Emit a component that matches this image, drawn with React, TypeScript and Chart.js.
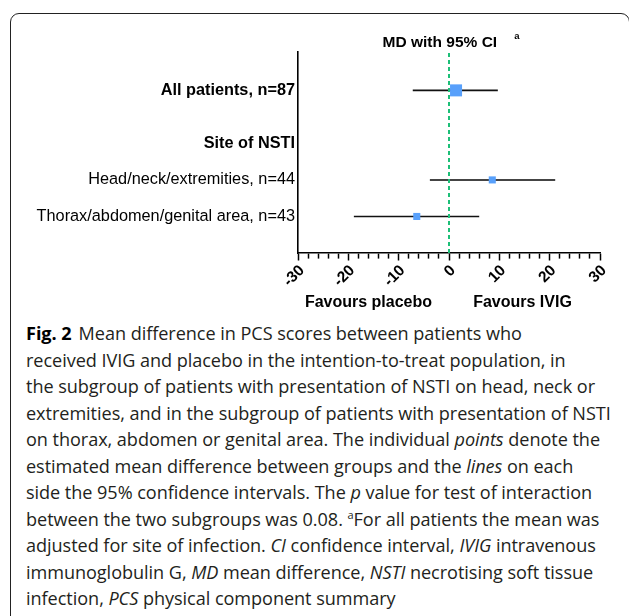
import React, { useEffect, useRef } from 'react';
import { Chart, registerables } from 'chart.js';

Chart.register(...registerables);

// ---- data ----
const rowLabels = [
  'All patients, n=87',
  'Site of NSTI',
  'Head/neck/extremities, n=44',
  'Thorax/abdomen/genital area, n=43',
];
const rowPositions = [4.45, 3, 2, 1];
const rowIsHeading = [true, true, false, false];

const estimateRows = [
  'All patients, n=87',
  'Head/neck/extremities, n=44',
  'Thorax/abdomen/genital area, n=43',
];
const meanDiff = [1.4, 8.6, -6.4];
const ciLower = [-7.2, -3.8, -18.9];
const ciUpper = [9.7, 21.1, 6.0];

const xMin = -30;
const xMax = 30;
const majorStep = 10;
const minorStep = 2;
const yMin = 0;
const yMax = 5.5;

const titleText = 'MD with 95% CI';
const titleSup = 'a';
const favourLabels = ['Favours placebo', 'Favours IVIG'];
const favourAnchors = [-16, 14.6];

const FAMILY = '"Liberation Sans", Arial, sans-serif';

const textPlugin = {
  id: 'forestText',
  afterDraw(chart: any) {
    const { ctx, chartArea, scales } = chart;
    const x = scales.x;
    ctx.save();
    ctx.fillStyle = '#000';
    ctx.textBaseline = 'alphabetic';
    ctx.textAlign = 'left';
    ctx.font = `bold 15.5px ${FAMILY}`;
    const w1 = ctx.measureText(titleText).width;
    ctx.font = `bold 9.5px ${FAMILY}`;
    const w2 = ctx.measureText(titleSup).width;
    const gap = 17;
    const total = w1 + gap + w2;
    const sx = (chartArea.left + chartArea.right) / 2 - total / 2 + 2;
    ctx.font = `bold 15.5px ${FAMILY}`;
    ctx.fillText(titleText, sx, chartArea.top - 5.5);
    ctx.font = `bold 9.5px ${FAMILY}`;
    ctx.fillText(titleSup, sx + w1 + gap, chartArea.top - 13.5);

    ctx.font = `bold 16px ${FAMILY}`;
    ctx.textAlign = 'center';
    favourLabels.forEach((t, i) => {
      ctx.fillText(t, x.getPixelForValue(favourAnchors[i]), chartArea.bottom + 53.5);
    });
    ctx.restore();
  },
};

function ForestChart() {
  const ref = useRef<HTMLCanvasElement | null>(null);
  useEffect(() => {
    if (!ref.current) return;
    const estY = estimateRows.map((r) => rowPositions[rowLabels.indexOf(r)]);
    const ciSets = estimateRows.map((r, i) => ({
      type: 'line' as const,
      label: r + ' 95% CI',
      data: [
        { x: ciLower[i], y: estY[i] },
        { x: ciUpper[i], y: estY[i] },
      ],
      borderColor: i === 1 ? '#444' : '#111',
      borderWidth: i === 1 ? 2 : 1.6,
      pointRadius: 0,
      order: 3,
    }));
    const chart = new Chart(ref.current, {
      type: 'scatter',
      data: {
        datasets: [
          ...ciSets,
          {
            type: 'line' as const,
            label: 'No difference',
            data: [
              { x: 0, y: yMin },
              { x: 0, y: yMax },
            ],
            borderColor: '#1dbf77',
            borderWidth: 2,
            borderDash: [4, 3],
            pointRadius: 0,
            order: 2,
          },
          {
            type: 'scatter' as const,
            label: 'MD',
            data: estimateRows.map((r, i) => ({ x: meanDiff[i], y: estY[i] })),
            pointStyle: 'rect',
            pointRadius: (c: any) => (c.dataIndex === 0 ? 8.5 : 5),
            pointHoverRadius: (c: any) => (c.dataIndex === 0 ? 8.5 : 5),
            backgroundColor: '#58a0fb',
            borderWidth: 0,
            order: 1,
          } as any,
        ],
      },
      options: {
        animation: false,
        responsive: true,
        maintainAspectRatio: false,
        layout: { padding: { top: 52, right: 29, left: 0, bottom: 0 } },
        plugins: {
          legend: { display: false },
          tooltip: { enabled: false },
          title: { display: false },
        },
        scales: {
          x: {
            type: 'linear',
            min: xMin,
            max: xMax,
            position: 'bottom',
            ticks: {
              stepSize: minorStep,
              autoSkip: false,
              minRotation: 45,
              maxRotation: 45,
              padding: 1,
              labelOffset: 4,
              color: '#000',
              font: { family: FAMILY, size: 15.5, weight: 'bold' },
              callback: (v: any) => (Number(v) % majorStep === 0 ? String(v) : ''),
            },
            grid: {
              drawOnChartArea: false,
              drawTicks: true,
              tickLength: 7.5,
              tickWidth: 1.5,
              tickColor: '#000',
              tickBorderDash: (c: any) =>
                c.tick && Number(c.tick.value) % majorStep !== 0 ? [5, 20] : [],
            },
            border: { color: '#000', width: 1.6 },
            afterFit: (s: any) => {
              s.height = 67;
            },
          },
          y: {
            type: 'linear',
            min: yMin,
            max: yMax,
            position: 'left',
            afterBuildTicks: (s: any) => {
              s.ticks = rowPositions.map((v) => ({ value: v }));
            },
            ticks: {
              autoSkip: false,
              padding: 3,
              color: '#000',
              font: (c: any) => ({
                family: FAMILY,
                size: 16.3,
                weight: rowIsHeading[c.index] ? 'bold' : 'normal',
              }),
              callback: (_v: any, i: number) => rowLabels[i],
            },
            grid: { display: false, drawTicks: false },
            border: { color: '#000', width: 1.6 },
            afterFit: (s: any) => {
              s.width = 298;
            },
          },
        },
      } as any,
      plugins: [textPlugin],
    });
    return () => chart.destroy();
  }, []);
  return <canvas ref={ref} />;
}

const capLine: React.CSSProperties = { whiteSpace: 'nowrap', height: 26.5 };

export default function App() {
  return (
    <div
      style={{
        position: 'fixed',
        left: 0,
        top: 0,
        width: 629,
        height: 616,
        overflow: 'hidden',
        background: '#fff',
      }}
    >
      <div
        style={{
          position: 'absolute',
          left: 10,
          top: 13,
          width: 620,
          height: 700,
          border: '1px solid #222',
          borderRadius: 9,
          boxSizing: 'border-box',
        }}
      />
      <div style={{ position: 'absolute', left: 0, top: 0, width: 629, height: 320 }}>
        <ForestChart />
      </div>
      <div
        style={{
          position: 'absolute',
          left: 26,
          top: 320,
          fontFamily: '"Open Sans", Lato, sans-serif',
          fontSize: 18.1,
          letterSpacing: '-0.05px',
          lineHeight: '26.5px',
          color: '#231f20',
        }}
      >
        <div style={capLine}>
          <b style={{ color: '#000', marginRight: 7 }}>Fig. 2</b>Mean difference in PCS scores between patients who
        </div>
        <div style={capLine}>received IVIG and placebo in the intention-to-treat population, in</div>
        <div style={capLine}>the subgroup of patients with presentation of NSTI on head, neck or</div>
        <div style={capLine}>extremities, and in the subgroup of patients with presentation of NSTI</div>
        <div style={capLine}>
          on thorax, abdomen or genital area. The individual <i>points</i> denote the
        </div>
        <div style={capLine}>
          estimated mean difference between groups and the <i>lines</i> on each
        </div>
        <div style={capLine}>
          side the 95% confidence intervals. The <i>p</i> value for test of interaction
        </div>
        <div style={capLine}>
          between the two subgroups was 0.08. <sup style={{ fontSize: 11, lineHeight: 0 }}>a</sup>For all patients the mean was
        </div>
        <div style={capLine}>
          adjusted for site of infection. <i>CI</i> confidence interval, <i>IVIG</i> intravenous
        </div>
        <div style={capLine}>
          immunoglobulin G, <i>MD</i> mean difference, <i>NSTI</i> necrotising soft tissue
        </div>
        <div style={capLine}>
          infection, <i>PCS</i> physical component summary
        </div>
      </div>
    </div>
  );
}
